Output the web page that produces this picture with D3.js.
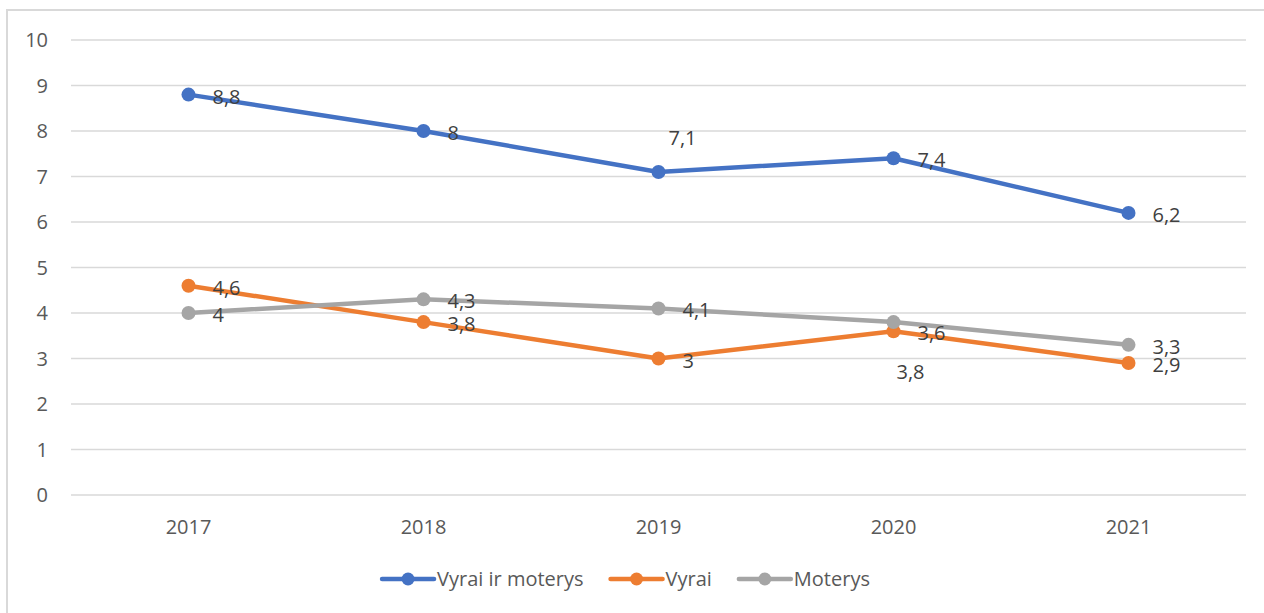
<!DOCTYPE html>
<html>
<head>
<meta charset="utf-8">
<script src="https://cdn.jsdelivr.net/npm/d3@7"></script>
<style>
  body { margin: 0; background: #fff; }
  text { font-family: "Open Sans", "Liberation Sans", sans-serif; }
</style>
</head>
<body>
<div id="chart"></div>
<script>
const years = ["2017", "2018", "2019", "2020", "2021"];
const bothValues = [8.8, 8, 7.1, 7.4, 6.2];
const menValues = [4.6, 3.8, 3, 3.6, 2.9];
const womenValues = [4, 4.3, 4.1, 3.8, 3.3];
const seriesNames = ["Vyrai ir moterys", "Vyrai", "Moterys"];
const yTicks = [0, 1, 2, 3, 4, 5, 6, 7, 8, 9, 10];

const colors = ["#4472c4", "#ed7d31", "#a5a5a5"];
// labels that sit somewhere other than right of the point: [dx, dy, anchor]
const labelShift = {
  "0-2": [10, -34, "start"],
  "2-3": [17, 50, "middle"]
};

const width = 1264, height = 613;
const margin = { left: 71, right: 18, top: 40, bottom: 118 };
const fontSize = "20px";

const svg = d3.select("#chart").append("svg")
  .attr("width", width)
  .attr("height", height);

// chart frame (only top and left edges visible)
svg.append("path")
  .attr("d", `M7,${height + 5} L7,10 L${width + 5},10`)
  .attr("fill", "none")
  .attr("stroke", "#d9d9d9")
  .attr("stroke-width", 2);

const x = d3.scaleBand()
  .domain(years)
  .range([margin.left, width - margin.right]);

const y = d3.scaleLinear()
  .domain([0, 10])
  .range([height - margin.bottom, margin.top]);

// gridlines
svg.append("g")
  .selectAll("line")
  .data(yTicks)
  .enter()
  .append("line")
  .attr("x1", margin.left)
  .attr("x2", width - margin.right)
  .attr("y1", d => y(d))
  .attr("y2", d => y(d))
  .attr("stroke", "#d9d9d9")
  .attr("stroke-width", 1.5);

// y tick labels
svg.append("g")
  .selectAll("text")
  .data(yTicks)
  .enter()
  .append("text")
  .attr("x", 48)
  .attr("y", d => y(d))
  .attr("dy", "0.35em")
  .attr("text-anchor", "end")
  .attr("font-size", fontSize)
  .attr("fill", "#595959")
  .text(d => d);

// x tick labels
svg.append("g")
  .selectAll("text")
  .data(years)
  .enter()
  .append("text")
  .attr("x", d => x(d) + x.bandwidth() / 2)
  .attr("y", 527)
  .attr("dy", "0.35em")
  .attr("text-anchor", "middle")
  .attr("font-size", fontSize)
  .attr("fill", "#595959")
  .text(d => d);

const series = [bothValues, menValues, womenValues].map((vals, i) => ({
  name: seriesNames[i],
  color: colors[i],
  points: vals.map((v, j) => ({ year: years[j], value: v, key: `${i}-${j}` }))
}));

const cx = d => x(d.year) + x.bandwidth() / 2;

const line = d3.line()
  .x(cx)
  .y(d => y(d.value));

series.forEach(s => {
  const g = svg.append("g");
  g.append("path")
    .attr("d", line(s.points))
    .attr("fill", "none")
    .attr("stroke", s.color)
    .attr("stroke-width", 4.5)
    .attr("stroke-linejoin", "round")
    .attr("stroke-linecap", "round");
  g.selectAll("circle")
    .data(s.points)
    .enter()
    .append("circle")
    .attr("cx", cx)
    .attr("cy", d => y(d.value))
    .attr("r", 7)
    .attr("fill", s.color);
});

// data labels
series.forEach(s => {
  svg.append("g")
    .selectAll("text")
    .data(s.points)
    .enter()
    .append("text")
    .attr("x", d => cx(d) + (labelShift[d.key] ? labelShift[d.key][0] : 24))
    .attr("y", d => y(d.value) + (labelShift[d.key] ? labelShift[d.key][1] : 2))
    .attr("dy", "0.35em")
    .attr("text-anchor", d => labelShift[d.key] ? labelShift[d.key][2] : "start")
    .attr("font-size", fontSize)
    .attr("fill", "#404040")
    .text(d => String(d.value).replace(".", ","));
});

// legend
const legend = svg.append("g");
let lx = 0;
series.forEach(s => {
  const item = legend.append("g").attr("transform", `translate(${lx},0)`);
  item.append("line")
    .attr("x1", 0).attr("x2", 52)
    .attr("y1", 0).attr("y2", 0)
    .attr("stroke", s.color)
    .attr("stroke-width", 4.5)
    .attr("stroke-linecap", "round");
  item.append("circle")
    .attr("cx", 26).attr("cy", 0)
    .attr("r", 6.5)
    .attr("fill", s.color);
  const t = item.append("text")
    .attr("x", 55)
    .attr("y", 0)
    .attr("dy", "0.35em")
    .attr("font-size", fontSize)
    .attr("fill", "#595959")
    .text(s.name);
  lx += 55 + t.node().getComputedTextLength() + 27;
});
lx -= 27;
legend.attr("transform", `translate(${626 - lx / 2},579)`);
</script>
</body>
</html>
